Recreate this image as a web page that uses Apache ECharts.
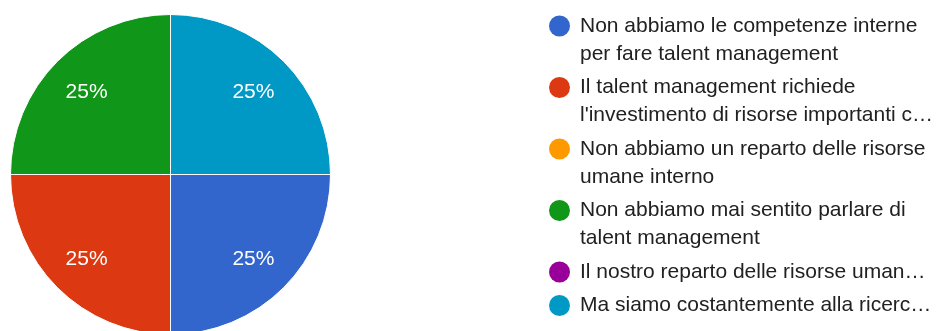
<!DOCTYPE html>
<html>
<head>
<meta charset="utf-8">
<title>Talent management</title>
<script src="https://cdn.jsdelivr.net/npm/echarts@6/dist/echarts.min.js"></script>
<style>
  html, body { margin: 0; padding: 0; background: #ffffff; }
  #chart { width: 938px; height: 331px; }
</style>
</head>
<body>
<div id="chart"></div>
<script>
// Answer options (legend text, with the line breaks used in the legend)
const categories = [
  "Non abbiamo le competenze interne\nper fare talent management",
  "Il talent management richiede\nl'investimento di risorse importanti c…",
  "Non abbiamo un reparto delle risorse\numane interno",
  "Non abbiamo mai sentito parlare di\ntalent management",
  "Il nostro reparto delle risorse uman…",
  "Ma siamo costantemente alla ricerc…"
];

// Number of answers per option
const counts = [1, 1, 0, 1, 0, 1];

// Slice colours
const colors = ["#3366cc", "#dc3912", "#ff9900", "#109618", "#990099", "#0099c6"];

const FONT = "'Liberation Sans', Arial, Helvetica, sans-serif";
const pieData = categories.map((name, i) => ({ name: name, value: counts[i] }));

// Rich-text styles for the legend: a coloured dot on the first line of each entry
const rich = {
  t: { fontSize: 21, lineHeight: 28, color: "#212121", fontFamily: FONT },
  gap: { width: 10, height: 21, lineHeight: 28 },
  ind: { width: 31, height: 21, lineHeight: 28 }
};
colors.forEach((c, i) => {
  rich["dot" + i] = {
    width: 21, height: 21, lineHeight: 28,
    borderRadius: 10.5, backgroundColor: c
  };
});

const chart = echarts.init(document.getElementById("chart"), null, { renderer: "canvas" });

chart.setOption({
  animation: false,
  color: colors,
  textStyle: { fontFamily: FONT },
  legend: {
    orient: "vertical",
    left: 543,
    top: 12,
    padding: 0,
    itemGap: 5.5,
    itemWidth: 0,
    itemHeight: 0,
    selectedMode: false,
    data: categories,
    formatter: function (name) {
      const i = categories.indexOf(name);
      const lines = name.split("\n");
      let s = "{dot" + i + "|}{gap|}{t|" + lines[0] + "}";
      for (let k = 1; k < lines.length; k++) {
        s += "\n{ind|}{t|" + lines[k] + "}";
      }
      return s;
    },
    textStyle: { rich: rich, fontSize: 21, lineHeight: 28 }
  },
  series: [
    {
      // Slices
      type: "pie",
      center: [170.5, 174.5],
      radius: [0, 160],
      startAngle: 0,
      clockwise: true,
      label: { show: false },
      labelLine: { show: false },
      emphasis: { disabled: true },
      itemStyle: { borderColor: "#ffffff", borderWidth: 1 },
      data: pieData
    },
    {
      // Percentage labels, placed further out than the slice midpoint
      type: "pie",
      center: [170, 176],
      radius: [70, 160],
      startAngle: 0,
      clockwise: true,
      silent: true,
      legendHoverLink: false,
      emphasis: { disabled: true },
      itemStyle: { color: "transparent", borderWidth: 0 },
      labelLine: { show: false },
      label: {
        show: true,
        position: "inside",
        color: "#ffffff",
        fontSize: 21,
        fontFamily: FONT,
        formatter: function (p) {
          return p.value > 0 ? Math.round(p.percent) + "%" : "";
        }
      },
      data: pieData
    }
  ]
});
</script>
</body>
</html>
